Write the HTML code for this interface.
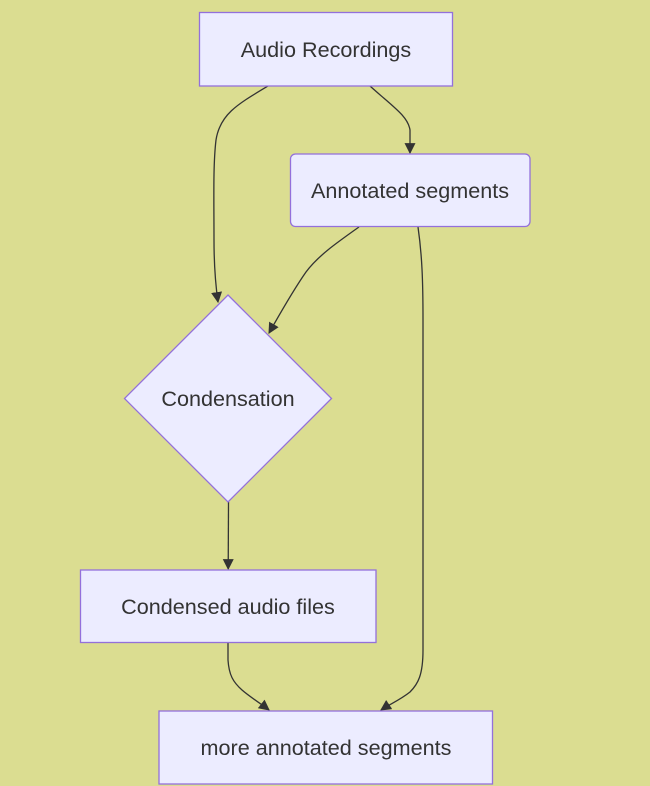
<!DOCTYPE html>
<html>
<head>
<meta charset="utf-8">
<style>
  html,body{margin:0;padding:0;background:#dbdd91;}
  svg{display:block;}
  text{font-family:"Liberation Sans",Arial,sans-serif;font-size:21.6px;fill:#333333;}
</style>
</head>
<body>
<svg width="650" height="786" viewBox="0 0 650 786" xmlns="http://www.w3.org/2000/svg">
  <rect x="0" y="0" width="650" height="786" fill="#dbdd91"/>
  <defs>
    <marker id="ah" viewBox="0 0 10 10" refX="9" refY="5" markerUnits="userSpaceOnUse" markerWidth="11" markerHeight="11" orient="auto">
      <path d="M0,0 L10,5 L0,10 z" fill="#333333"/>
    </marker>
  </defs>

  <g fill="none" stroke="#333333" stroke-width="1.3">
    <path d="M268,86 C238,104 220,114 216,140 C213,165 214,200 214,240 C214,268 216,288 218,302" marker-end="url(#ah)"/>
    <path d="M370,86 C392,106 408,116 410,130 L410,153" marker-end="url(#ah)"/>
    <path d="M359,227 C335,244 318,256 306,272 C292,292 281,312 269,333" marker-end="url(#ah)"/>
    <path d="M418,227 C422,255 423,280 423,320 L423,650 C423,675 418,684 410,692 C400,700 390,704 381,710" marker-end="url(#ah)"/>
    <path d="M228.5,502 L228.2,569" marker-end="url(#ah)"/>
    <path d="M228,643 L228,660 C229,675 233,682 242,690 C250,697 260,703 269,710" marker-end="url(#ah)"/>
  </g>

  <g fill="#ececff" stroke="#9370db" stroke-width="1.3">
    <rect x="199.5" y="12.5" width="253" height="73.5"/>
    <rect x="290.5" y="154" width="239.5" height="72.5" rx="5" ry="5"/>
    <polygon points="228,295 331.5,398.5 228,502 124.5,398.5"/>
    <rect x="80.5" y="570" width="295.5" height="72.5"/>
    <rect x="159" y="711" width="333.5" height="73"/>
  </g>

  <g text-anchor="middle" dominant-baseline="central">
    <text x="326" y="49.5">Audio Recordings</text>
    <text x="410" y="190.5">Annotated segments</text>
    <text x="228" y="398.5">Condensation</text>
    <text x="228" y="606.5">Condensed audio files</text>
    <text x="326" y="747.5">more annotated segments</text>
  </g>
</svg>
</body>
</html>
